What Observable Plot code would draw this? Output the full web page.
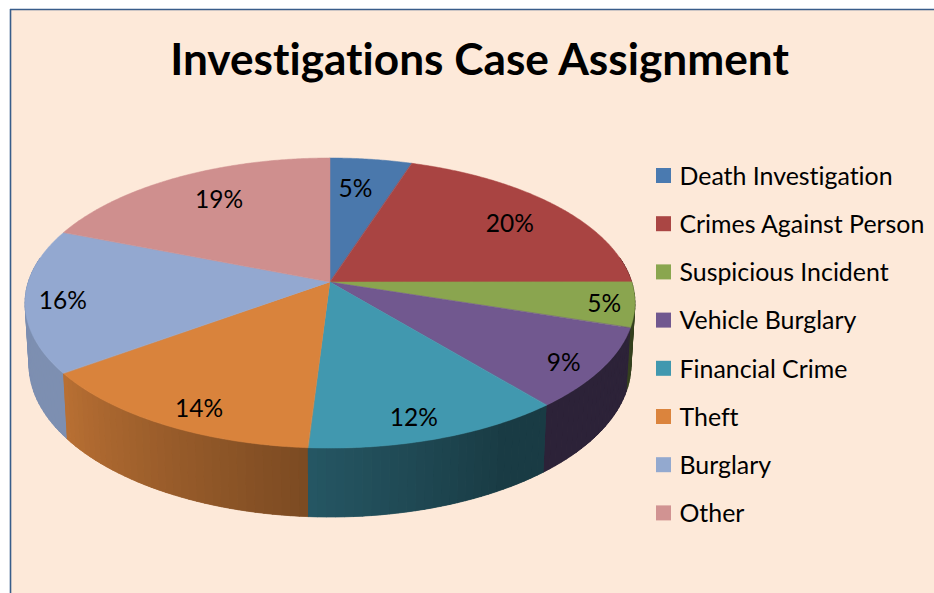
<!DOCTYPE html>
<html>
<head>
<meta charset="utf-8">
<script src="https://cdn.jsdelivr.net/npm/d3@7"></script>
<script src="https://cdn.jsdelivr.net/npm/@observablehq/plot@0.6"></script>
<style>
html,body{margin:0;padding:0;background:#fff;overflow:hidden}
svg text{font-variant-ligatures:none;font-feature-settings:"liga" 0,"clig" 0}
</style>
</head>
<body>
<div id="chart"></div>
<script>
// ---- data ----
const titleText = "Investigations Case Assignment";
const categories = ["Death Investigation","Crimes Against Person","Suspicious Incident","Vehicle Burglary","Financial Crime","Theft","Burglary","Other"];
const percents = [5,20,5,9,12,14,16,19];
const topColors = ["#4a78ac","#a94442","#8aa54f","#71588f","#4198af","#d9833c","#93a8d0","#cf8f8e"];
const legendColors = ["#4a7ab0","#aa4644","#8aa64f","#71588f","#4198af","#db843d","#93a9cf","#d19392"];

// ---- layout ----
const W = 934, H = 593;
const apex = {x:330, y:282};
const persp = {a:142, b:301.7, k:0.145, h:62, d:0.013};
const labelRadius = [0.73,0.77,0.90,0.885,0.875,0.88,0.88,0.75];
const labelNudgeDeg = [-1.8,1.2,0.5,2.0,1.9,-2.8,-1.1,1.7];
const legendLayout = {x:656, size:15, textX:679, y0:175.5, step:48.2, textDy:0.8};
const wallShade = d3.scaleLinear().domain([90,150,184,234,290]).range([0.39,0.39,0.57,0.85,0.85]).clamp(true);

// perspective projection of a pie-plane point (theta clockwise from the top, r radial, level 0 top / 1 bottom)
function project(theta, r = 1, level = 0) {
  const t = theta * Math.PI / 180;
  const X = Math.sin(t) * r, Y = -Math.cos(t) * r;
  const w = 1 - persp.k * Y + persp.d * level;
  return {x: apex.x + persp.b * X / w, y: apex.y + (persp.a * Y + persp.h * level) / w};
}

// slice angles
let acc = 0;
const total = d3.sum(percents);
const slices = categories.map((name, i) => {
  const start = acc / total * 360;
  acc += percents[i];
  return {name, i, start, end: acc / total * 360, pct: percents[i], color: topColors[i]};
});

// top surface: fan from the apex to the rim
const topPts = slices.flatMap(s => {
  const n = Math.ceil((s.end - s.start) * 2);
  return d3.range(n + 1).map(j => {
    const p = project(s.start + (s.end - s.start) * j / n);
    return {name: s.name, color: s.color, x1: apex.x, y1: apex.y, x2: p.x, y2: p.y};
  });
});

// outer wall: short shaded strips between top rim and bottom rim
const wallStrips = [];
slices.forEach(s => {
  const lo = Math.max(s.start, 80), hi = Math.min(s.end, 280);
  if (hi <= lo) return;
  const n = Math.ceil((hi - lo) / 1.5);
  d3.range(n).forEach(j => {
    const a0 = lo + (hi - lo) * j / n, a1 = lo + (hi - lo) * (j + 1) / n;
    const c = d3.rgb(s.color), f = wallShade((a0 + a1) / 2);
    wallStrips.push({a0, a1, color: d3.rgb(c.r * f, c.g * f, c.b * f).formatHex()});
  });
});
wallStrips.sort((p, q) => Math.abs((p.a0 + p.a1) / 2 - 180) < Math.abs((q.a0 + q.a1) / 2 - 180) ? 1 : -1);
const wallPts = wallStrips.flatMap((w, id) => [w.a0, w.a1].map(a => {
  const t = project(a, 1, 0), b = project(a, 1, 1);
  return {id, color: w.color, x1: t.x, y1: t.y, x2: b.x, y2: b.y};
}));

const pctLabels = slices.map(s => {
  const p = project((s.start + s.end) / 2 + labelNudgeDeg[s.i], labelRadius[s.i]);
  return {x: p.x, y: p.y, text: s.pct + "%"};
});

const legendRows = categories.map((name, i) => ({
  name, color: legendColors[i], y: legendLayout.y0 + i * legendLayout.step
}));

const font = "Lato, Carlito, Calibri, sans-serif";

const chart = Plot.plot({
  width: W, height: H,
  margin: 0,
  x: {domain: [0, W], range: [0, W], axis: null},
  y: {domain: [0, H], range: [0, H], axis: null},
  color: {type: "identity"},
  style: {background: "#fff"},
  marks: [
    Plot.rect([{}], {x1: 10, x2: W, y1: 9, y2: H, fill: "#fde9d9"}),
    Plot.ruleY([9], {x1: 10, x2: W, stroke: "#385d8a", strokeWidth: 1.6}),
    Plot.ruleX([10], {y1: 9, y2: H, stroke: "#385d8a", strokeWidth: 1.6}),
    Plot.text([titleText], {x: 479, y: 60, text: d => d, fontFamily: font, fontWeight: 700, fontSize: 44.2, fill: "#000", lineAnchor: "middle"}),
    Plot.area(wallPts, {x1: "x1", y1: "y1", x2: "x2", y2: "y2", z: "id", fill: "color", stroke: "color", strokeWidth: 0.7, curve: "linear"}),
    Plot.area(wallPts, {x1: "x1", y1: "y1", x2: "x2", y2: "y2", z: "id", fill: "color", curve: "linear"}),
    Plot.area(topPts, {x1: "x1", y1: "y1", x2: "x2", y2: "y2", z: "name", fill: "color", stroke: "color", strokeWidth: 0.5, curve: "linear"}),
    Plot.text(pctLabels, {x: "x", y: "y", text: "text", fontFamily: font, fontSize: 24.5, fill: "#000", lineAnchor: "middle"}),
    Plot.rect(legendRows, {x1: legendLayout.x, x2: legendLayout.x + legendLayout.size, y1: d => d.y - legendLayout.size / 2, y2: d => d.y + legendLayout.size / 2, fill: "color"}),
    Plot.text(legendRows, {x: legendLayout.textX, y: d => d.y + legendLayout.textDy, text: "name", textAnchor: "start", lineAnchor: "middle", fontFamily: font, fontSize: 24.9, fill: "#000"})
  ]
});
document.getElementById("chart").appendChild(chart);
</script>
</body>
</html>
